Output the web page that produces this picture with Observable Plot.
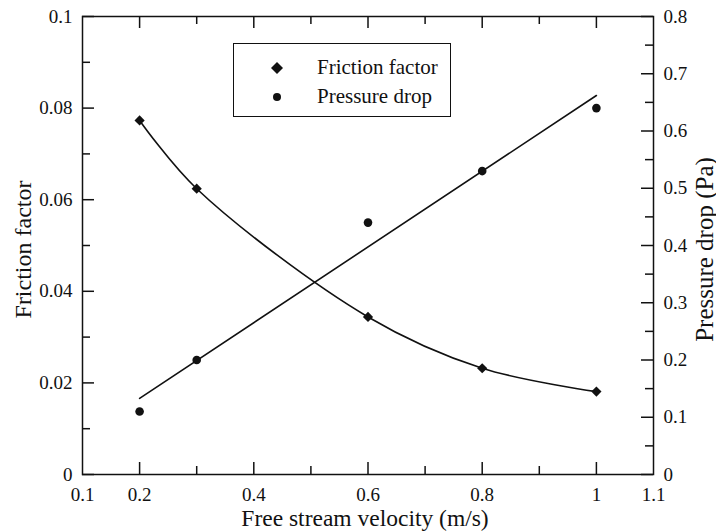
<!DOCTYPE html>
<html><head><meta charset="utf-8">
<script src="https://cdn.jsdelivr.net/npm/d3@7"></script>
<script src="https://cdn.jsdelivr.net/npm/@observablehq/plot@0.6"></script>
<style>
body{margin:0;background:#fff;}
#wrap{position:relative;width:716px;height:532px;font-family:"Liberation Serif","Times New Roman",serif;color:#111;}
#legend{position:absolute;left:233px;top:43px;width:216px;height:72px;border:1.5px solid #111;background:#fff;}
#legend .row{position:absolute;left:0;height:24px;line-height:24px;font-size:21px;white-space:nowrap;}
#legend svg{position:absolute;left:35px;top:4px;}
#legend span{position:absolute;left:83px;top:-1px;}
</style></head><body><div id="wrap"></div>
<script>
// ---- data ----
const velocity = [0.2, 0.3, 0.6, 0.8, 1.0];
const frictionFactor = [0.0773, 0.0624, 0.0344, 0.0232, 0.0181];
const pressureDrop = [0.110, 0.200, 0.440, 0.530, 0.640];
const pressureFitVelocity = [0.2, 1.0];
const pressureFitValue = [0.133, 0.662];
const seriesNames = ["Friction factor", "Pressure drop"];

const xTickLabels = [0.1, 0.2, 0.4, 0.6, 0.8, 1, 1.1];
const xMajorTicks = [0.2, 0.4, 0.6, 0.8, 1.0];
const xMinorTicks = [0.3, 0.5, 0.7, 0.9];
const leftMajorTicks = [0, 0.02, 0.04, 0.06, 0.08, 0.1];
const leftMinorTicks = [0.01, 0.03, 0.05, 0.07, 0.09];
const rightMajorTicks = [0, 0.1, 0.2, 0.3, 0.4, 0.5, 0.6, 0.7, 0.8];
const rightMinorTicks = [0.05, 0.15, 0.25, 0.35, 0.45, 0.55, 0.65, 0.75];

const xDomain = [0.1, 1.1];
const leftDomain = [0, 0.1];
const rightDomain = [0, 0.8];
const ratio = rightDomain[1] / leftDomain[1]; // right axis units per left axis unit

const friction = velocity.map((v, i) => ({v, f: frictionFactor[i]}));
const pressure = velocity.map((v, i) => ({v, p: pressureDrop[i]}));
const pressureFit = pressureFitVelocity.map((v, i) => ({v, p: pressureFitValue[i]}));

const fmt = d => String(+(+d).toFixed(3));
const toLeft = p => p / ratio;
const ink = "#111";
const serif = '"Liberation Serif","Times New Roman",serif';

const W = 716, H = 532, ML = 82, MR = 63, MT = 16, MB = 58;
const FW = W - ML - MR, FH = H - MT - MB; // frame size in px
const MAJ = 12, MIN = 8;
const tickStyle = {stroke: ink, strokeWidth: 1.5};
const tickText = {fontSize: 19, fontFamily: serif, fill: ink};

const chart = Plot.plot({
  width: W,
  height: H,
  marginLeft: ML,
  marginRight: MR,
  marginTop: MT,
  marginBottom: MB,
  style: {fontFamily: serif, fontSize: "18px", color: ink, background: "#fff"},
  x: {domain: xDomain, axis: null},
  y: {domain: leftDomain, axis: null},
  marks: [
    // inward ticks: bottom, top, left, right
    Plot.ruleX(xMajorTicks, {x: d => d, insetTop: FH - MAJ, ...tickStyle}),
    Plot.ruleX(xMinorTicks, {x: d => d, insetTop: FH - MIN, ...tickStyle}),
    Plot.ruleX(xMajorTicks, {x: d => d, insetBottom: FH - MAJ, ...tickStyle}),
    Plot.ruleX(xMinorTicks, {x: d => d, insetBottom: FH - MIN, ...tickStyle}),
    Plot.ruleY(leftMajorTicks, {y: d => d, insetRight: FW - MAJ, ...tickStyle}),
    Plot.ruleY(leftMinorTicks, {y: d => d, insetRight: FW - MIN, ...tickStyle}),
    Plot.ruleY(rightMajorTicks, {y: d => toLeft(d), insetLeft: FW - MAJ, ...tickStyle}),
    Plot.ruleY(rightMinorTicks, {y: d => toLeft(d), insetLeft: FW - MIN, ...tickStyle}),
    // tick labels
    Plot.text(xTickLabels, {x: d => d, text: fmt, frameAnchor: "bottom", textAnchor: "middle", lineAnchor: "top", dy: 13, ...tickText}),
    Plot.text(leftMajorTicks, {y: d => d, text: fmt, frameAnchor: "left", textAnchor: "end", lineAnchor: "middle", dx: -10, ...tickText}),
    Plot.text(rightMajorTicks, {y: d => toLeft(d), text: fmt, frameAnchor: "right", textAnchor: "start", lineAnchor: "middle", dx: 10, ...tickText}),
    // axis titles
    Plot.text(["Free stream velocity (m/s)"], {frameAnchor: "bottom", textAnchor: "middle", dx: -3, dy: 44, fontSize: 23.5, fontFamily: serif, fill: ink, lineAnchor: "middle"}),
    Plot.text(["Friction factor"], {frameAnchor: "left", textAnchor: "middle", dx: -59, dy: 4, rotate: -90, fontSize: 24, fontFamily: serif, fill: ink, lineAnchor: "middle"}),
    Plot.text(["Pressure drop (Pa)"], {frameAnchor: "right", textAnchor: "middle", dx: 51, dy: 4, rotate: -90, fontSize: 25, fontFamily: serif, fill: ink, lineAnchor: "middle"}),
    // data
    Plot.line(friction, {x: "v", y: "f", curve: "catmull-rom", stroke: ink, strokeWidth: 1.6}),
    Plot.line(pressureFit, {x: "v", y: d => toLeft(d.p), stroke: ink, strokeWidth: 1.6}),
    Plot.dot(friction, {x: "v", y: "f", symbol: "diamond2", r: 4.6, fill: ink, stroke: "none"}),
    Plot.dot(pressure, {x: "v", y: d => toLeft(d.p), symbol: "circle", r: 4.3, fill: ink, stroke: "none"}),
    Plot.frame({stroke: ink, strokeWidth: 1.5})
  ]
});

const wrap = document.getElementById("wrap");
wrap.appendChild(chart);

const legend = document.createElement("div");
legend.id = "legend";
const rowTops = [12, 41];
seriesNames.forEach((name, i) => {
  const row = document.createElement("div");
  row.className = "row";
  row.style.top = rowTops[i] + "px";
  const shape = i === 0
    ? '<polygon points="8,2 14,8 8,14 2,8" fill="#111"/>'
    : '<circle cx="8" cy="8" r="4" fill="#111"/>';
  row.innerHTML = `<svg width="16" height="16">${shape}</svg><span>${name}</span>`;
  legend.appendChild(row);
});
wrap.appendChild(legend);
</script>
</body></html>
